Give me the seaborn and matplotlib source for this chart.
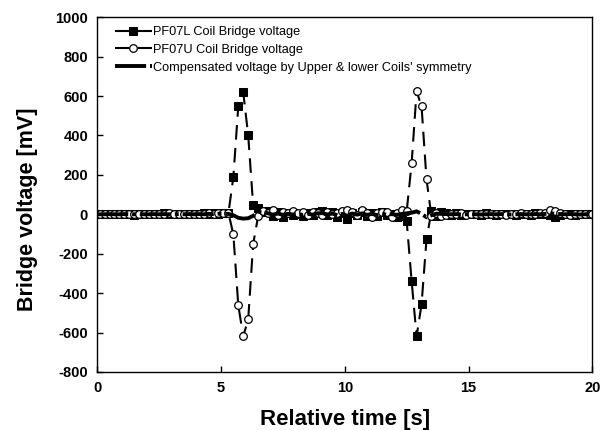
import matplotlib
matplotlib.use('Agg')
import matplotlib.pyplot as plt
import numpy as np
import seaborn as sns

# sample times [s]
t = [0.0,
     0.1, 0.3, 0.5, 0.7, 0.9, 1.1, 1.3, 1.5, 1.7, 1.9,
     2.1, 2.3, 2.5, 2.7, 2.9, 3.1, 3.3, 3.5, 3.7, 3.9,
     4.1, 4.3, 4.5, 4.7, 4.9, 5.1, 5.3, 5.5, 5.7, 5.9,
     6.1, 6.3, 6.5, 6.7, 6.9, 7.1, 7.3, 7.5, 7.7, 7.9,
     8.1, 8.3, 8.5, 8.7, 8.9, 9.1, 9.3, 9.5, 9.7, 9.9,
     10.1, 10.3, 10.5, 10.7, 10.9, 11.1, 11.3, 11.5, 11.7, 11.9,
     12.1, 12.3, 12.5, 12.7, 12.9, 13.1, 13.3, 13.5, 13.7, 13.9,
     14.1, 14.3, 14.5, 14.7, 14.9, 15.1, 15.3, 15.5, 15.7, 15.9,
     16.1, 16.3, 16.5, 16.7, 16.9, 17.1, 17.3, 17.5, 17.7, 17.9,
     18.1, 18.3, 18.5, 18.7, 18.9, 19.1, 19.3, 19.5, 19.7, 19.9,
     20.0]

# PF07L coil bridge voltage [mV]
v_lower = [0,
           1, 0, -1, 2, 0, 3, 1, -2, 2, 0,
           3, 1, 0, 4, 2, -1, 3, 0, 2, 1,
           2, 4, 3, 6, 2, 5, 4, 188, 548, 619,
           401, 46, 30, 12, 18, -8, 10, -12, 5, -6,
           3, -10, 8, -5, 12, 15, -4, 10, -15, 5,
           -22, 8, -6, 12, -10, 6, -8, 10, -5, 3,
           -12, -8, -36, -340, -619, -457, -127, 15, -8, 12,
           4, -3, 5, -2, 3, 0, 2, -3, 4, 1,
           -2, 3, 0, 2, -4, 3, 1, -2, 4, 0,
           2, -5, -12, -6, 3, 1, -3, 2, 0, 3,
           0]

# PF07U coil bridge voltage [mV]
v_upper = [0,
           -1, 1, 2, 0, 3, -1, 2, 1, 3, 2,
           1, 3, 2, 0, 4, 1, 3, 2, -1, 3,
           3, 1, 5, 2, 4, 6, 8, -101, -462, -619,
           -533, -152, -10, 15, 8, 20, -5, 12, 6, 15,
           8, 14, -6, 10, 5, -4, 12, 3, 8, 18,
           22, 10, -5, 20, 8, -12, 6, 14, 10, -15,
           8, 20, 15, 259, 624, 548, 178, -10, 5, -8,
           -3, 2, 0, 4, -2, 3, 1, -1, 2, 0,
           3, 1, -2, 2, 0, 4, 2, -1, 3, 5,
           8, 22, 18, 6, 2, -3, 1, 3, 0, 2,
           1]

# compensated voltage [mV]
v_comp = [0,
          0, 0, 1, 0, 0, 1, 0, 0, 1, 0,
          0, 1, 0, 1, 0, 0, 1, 0, 1, 0,
          1, 0, 2, 1, 3, 2, 2, -5, -18, -22,
          -20, -8, 12, 10, 5, -2, 4, -3, 2, -1,
          2, -3, 3, -2, 5, 6, -1, 4, -5, 2,
          -6, 4, -2, 5, -3, 2, -4, 3, -2, 1,
          -3, 2, 5, 8, 15, 2, -15, -5, 3, 2,
          1, 0, 1, -1, 0, 1, 0, -1, 0, 1,
          0, 1, 0, -1, 0, 1, 0, 0, 1, 0,
          2, 4, 3, 1, 0, 1, 0, -1, 0, 1,
          0]

labels = ['PF07L Coil Bridge voltage',
          'PF07U Coil Bridge voltage',
          "Compensated voltage by Upper & lower Coils' symmetry"]

sns.set_style('ticks')
plt.rcParams['font.family'] = ['Liberation Sans', 'DejaVu Sans']
plt.rcParams['axes.unicode_minus'] = False
plt.rcParams['text.color'] = 'black'
plt.rcParams['axes.labelcolor'] = 'black'
plt.rcParams['xtick.color'] = 'black'
plt.rcParams['ytick.color'] = 'black'
plt.rcParams['axes.edgecolor'] = 'black'

fig, ax = plt.subplots(figsize=(6.07, 4.30), dpi=100)
fig.subplots_adjust(left=0.160, right=0.976, bottom=0.135, top=0.960)

sns.lineplot(x=t, y=v_lower, ax=ax, sort=False, estimator=None, color='black',
             linestyle=(0, (7, 4)), linewidth=1.5, marker='s', markersize=5.5,
             markerfacecolor='black', markeredgecolor='black', label=labels[0])
sns.lineplot(x=t, y=v_upper, ax=ax, sort=False, estimator=None, color='black',
             linestyle=(0, (7, 4)), linewidth=1.5, marker='o', markersize=5.5,
             markerfacecolor='white', markeredgecolor='black', markeredgewidth=0.9,
             label=labels[1])
sns.lineplot(x=t, y=v_comp, ax=ax, sort=False, estimator=None, color='black',
             linestyle=(0, (8, 1, 1, 1)), linewidth=2.8, label=labels[2])

ax.set_xlim(0, 20)
ax.set_ylim(-800, 1000)
ax.set_xticks([0, 5, 10, 15, 20])
ax.set_yticks(np.arange(-800, 1001, 200))
ax.tick_params(direction='in', length=4, width=1, labelsize=10.5, pad=6.5)
for lab in ax.get_xticklabels() + ax.get_yticklabels():
    lab.set_fontweight('bold')

for spine in ['top', 'bottom', 'left', 'right']:
    ax.spines[spine].set_linewidth(1)

ax.set_xlabel('Relative time [s]', fontsize=16, fontweight='bold', labelpad=10)
ax.set_ylabel('Bridge voltage [mV]', fontsize=15.5, fontweight='bold')
ax.yaxis.set_label_coords(-0.12, 0.46)

ax.legend(loc='upper left', frameon=False, fontsize=9.2, handlelength=2.9,
          handletextpad=0.1, labelspacing=0.45, borderaxespad=0.0,
          borderpad=0.0, bbox_to_anchor=(0.036, 0.975))

plt.savefig('out.png', dpi=100)
